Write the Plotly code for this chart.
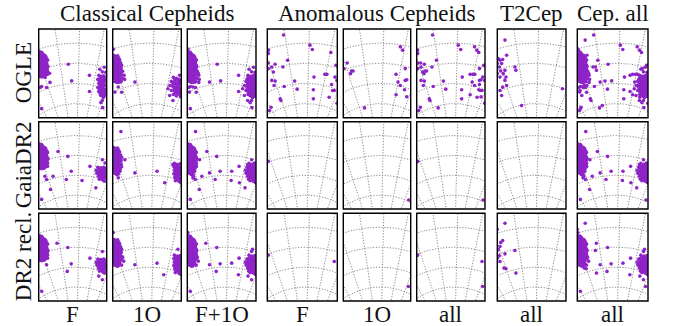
import math
import plotly.graph_objects as go

# ---------------- layout text ----------------
group_titles = ["Classical Cepheids", "Anomalous Cepheids", "T2Cep", "Cep. all"]
row_labels = ["OGLE", "GaiaDR2", "DR2 recl."]
col_labels = ["F", "1O", "F+1O", "F", "1O", "all", "all", "all"]

# ---------------- data (panel coordinates: x 0..69 left->right, y 0..88 top->bottom) ----------------
lmc_f = [(0.5,24),(2,25),(4,24.5),(6,26),(1,27),(3,28),(5,28),(7.5,28.5),(0.5,30),(2.5,31),(4.5,30.5),
         (6.5,31.5),(9,31),(1,33),(3,34),(5.5,33.5),(8,34),(0.5,36),(2.5,37),(4.5,36),(7,37),(9.5,37.5),
         (1.5,39),(3.5,40),(6,39.5),(8.5,40),(0.5,42),(2.5,43),(5,42.5),(7.5,43),(1.5,45),(4,45.5),
         (6.5,46),(9,45),(3,47.5),(0.5,47),
         (1.5,25.5),(3,26.5),(5,27),(7,27),(2,29.5),(4,29),(6,29.5),(8.5,30),(1.5,32),(3.5,32.5),(6,32.5),
         (7.5,32),(1.5,35),(4,35),(6,35),(8.5,36),(2.5,38.5),(5,38),(7.5,38.5),(1.5,41),(4,41.5),(6.5,41),
         (9,42),(2.5,44),(5.5,44),(8,44.5),(2,46.5),(5,47),(1,22.5),(3,23)]
lmc_1o = [(1,26),(3,27),(5,26.5),(0.5,29),(2.5,30),(4.5,29.5),(7,30.5),(1,32),(3,33),(5.5,32.5),(8,33.5),
          (0.5,35),(2.5,36),(4.5,35.5),(7,36.5),(9,36),(1.5,38),(3.5,39),(6,38.5),(8.5,39.5),(0.5,41),
          (2.5,42),(5,41.5),(7.5,42.5),(1.5,44),(4,45),(6.5,44.5),(9,45.5),(2.5,47),(5,48),(7.5,47.5),
          (3.5,50),(6,51),(1,49),(4,53),
          (2,27.5),(4,28),(6,28.5),(1.5,30.5),(3.5,31),(6,31),(2,34),(4,34),(6.5,34.5),(1.5,37),(3.5,37.5),
          (5.5,37),(8,38),(2,40),(4,40.5),(7,40.5),(3.5,43.5),(6,43),(8.5,43),(1,46),(3.5,46),(6.5,46.5),
          (2.5,49.5),(5,50),(7,49.5),(2,52),(5.5,53)]
smc_f_ogle = [(62,40),(66.5,38),(64.5,42.5),(68,43),(61,46),(63.5,47),(66,46.5),(68.5,48),(60,50),(62.5,51),
              (65,50.5),(67.5,52),(61,54),(63.5,55),(66,54.5),(68.5,56),(60,58),(62.5,59),(65,58.5),(67.5,60),
              (61,62),(64,63),(66.5,64),(68.5,62),(63,66),(65.5,68),(64.5,71),(63,73),(65,78),
              (62.5,48.5),(65,48.5),(67.5,49.5),(61.5,52.5),(64,53),(66.5,52.5),(62,56.5),(64.5,56.5),
              (67,56.5),(61.5,60.5),(63.5,61),(66,61),(68.5,60.5),(62.5,64.5),(65,65.5),(67.5,66)]
smc_f_gaia = [(60,46),(63,46.5),(66,46),(68.5,47),(58.5,49),(61.5,49.5),(64.5,49),(67.5,50),(59,52),(62,52.5),
              (65,52),(68,53),(60.5,55),(63.5,55.5),(66.5,55),(68.5,57),(61.5,58),(64.5,58.5),(67,60),
              (61.5,47.5),(64.5,47.5),(67,48),(60,50.5),(63,51),(66,50.5),(68.5,51.5),(61,54),(64,54),
              (67,54),(62.5,57),(65.5,57),(66,59.5)]
smc_1o = [(67.3,46),(61,48),(64,49),(66.5,50),(68.5,51),(59,52),(62,53),(65,53.5),(67.5,54.5),(57.5,56),
          (60.5,57),(63.5,57.5),(66,58),(68.5,59),(59,61),(62,61.5),(65,62),(67.5,63),(61,65),(64,66.5),(68,67),
          (62.5,50.5),(65.5,51),(68,52.5),(60.5,54.5),(63.5,55),(66.5,56),(62,59),(64.5,60),(67,60.5),
          (63,63.5),(66,64.5),(68.5,65)]
smc_1o_gaia = [(62,42),(65,43),(68,42.5),(61.5,45.5),(64.5,46),(67.5,46.5),(62,49),(65,49.5),(68,50),
               (61.5,52.5),(64.5,53),(67.5,53.5),(62.5,56),(65.5,56.5),(68.5,57),(63,59.5),(66.5,60),(68.5,61.5),
               (63.5,44.5),(66.5,44.5),(63,47.5),(66,48),(68.5,48),(63,51),(66,51.5),(63,54.5),(66,55),
               (64,58),(67,58.5)]

ogle_cc_f_extra = [(11,44),(6.5,48),(11.5,53),(8,58),(1.5,58),(3,57),(30,35),(33.5,51.5),(51.5,46),
                   (51.5,62),(61.5,62.5),(3,79)]
ogle_cc_1o_extra = [(0.6,20),(10,42),(11.5,46),(10,49),(12,50),(8.5,52),(7.3,52.6),(5.6,57.6),(9,62.7),
                    (2.3,62.6),(22.3,52.7),(55.6,59.3),(57.3,66),(60.6,71)]
gaia_cc_f_extra = [(8,43.3),(6.3,55),(14.6,55),(8,58.3),(19.6,30),(29.6,35),(33,50),(28,58.3),(44,59.3),
                   (52,45),(58,66.7),(12,68.3),(3,78.3),(64.6,38.3),(67.3,41.6)]
gaia_cc_1o_extra = [(8.3,10),(12.3,38.3),(7.3,50),(4,53.3),(5.6,56.6),(22.3,51.6),(44.6,50),(52.3,61.6),
                    (60.6,43.3)]
recl_cc_f_extra = [(18.6,30),(29.6,34.3),(8,42.7),(8,51.7),(33,50.7),(29,58.3),(52,45),(64.6,38.3),
                   (3,78.3),(64.6,66.7),(61,63)]
recl_cc_1o_extra = [(0.6,19.3),(10,44),(11,48),(9,52),(22.3,51.7),(44.6,50),(51.3,61.7),(65.6,36)]

ogle_acep_f = [(16,6),(42,16),(44.4,20.3),(62.7,23.3),(1,21),(1,24.3),(1,33.7),(7.7,35),(4.4,37.7),
               (15.4,37.7),(20,31),(1,39.3),(6,42.7),(4.4,51),(7.7,51.7),(6.7,56),(16.7,57),(27,51.7),
               (29.4,59.7),(46,47.7),(45.4,60.3),(45.4,69.3),(56.7,45),(58.7,45),(66.7,47.7),(68.7,51),
               (63.4,55),(66,61),(61,67.7),(68.7,73.7),(12.7,69.3),(13.4,71),(3.7,77.7),(2,81),(67.7,36),
               (64.4,61)]
ogle_acep_1o = [(4,33.7),(0.7,39.3),(8.4,41.7),(10,41.7),(7.4,44.3),(58.4,17.7),(60.7,21),(63.4,39.3),
                (54,45),(56,52.7),(63.4,51),(65,50.3),(58.4,56),(62.7,60.3),(54,65.3),(65,67.3),(21.7,78.3)]
gaia_acep_f = [(1,40)]
gaia_acep_1o = [(67,79)]
recl_acep_f = [(1,42),(66,48.4)]
recl_acep_1o = [(66.6,73.4)]

ogle_t2 = [(7.7,11),(1,29.3),(2.7,31),(5.4,30.3),(0,34.3),(4.4,34.3),(9.4,26),(7.7,41),(2,37.7),(3.4,41.7),
           (17.7,37.7),(18.7,41),(6,44.3),(2.7,47.7),(7.7,51),(9.4,56),(5.4,57.7),(2.7,61),(4.4,66),
           (65.4,59.3),(24.4,76),(0,44.3),(8.7,47.7)]
gaia_t2 = []
recl_t2 = [(7.7,10),(0,16),(3.4,29.4),(5.4,27.4),(2.7,33.4),(7.7,40.7),(1,36.7),(2,42.7),(0,45),
           (2.7,48.4),(17.7,37.4),(6.7,55),(8.7,55.7),(18.7,60)]

# ---------------- assemble panels ----------------
def panels_for(cc_f, cc_1o, acep_f, acep_1o, t2):
    cc_all = cc_f + cc_1o
    acep_all = acep_f + acep_1o
    return [cc_f, cc_1o, cc_all, acep_f, acep_1o, acep_all, t2, cc_all + acep_all + t2]

rows = [
    panels_for(lmc_f + smc_f_ogle + ogle_cc_f_extra, lmc_1o + smc_1o + ogle_cc_1o_extra,
               ogle_acep_f, ogle_acep_1o, ogle_t2),
    panels_for(lmc_f + smc_f_gaia + gaia_cc_f_extra, lmc_1o + smc_1o_gaia + gaia_cc_1o_extra,
               gaia_acep_f, gaia_acep_1o, gaia_t2),
    panels_for(lmc_f + smc_f_gaia + recl_cc_f_extra, lmc_1o + smc_1o_gaia + recl_cc_1o_extra,
               recl_acep_f, recl_acep_1o, recl_t2),
]

W, H = 678, 326
col_left = [38.7, 112.7, 187.3, 267.3, 343.3, 416.7, 497.3, 577.3]
col_right = [106.7, 181.3, 256.0, 337.3, 410.7, 485.0, 566.0, 648.0]
row_top = [29.0, 121.7, 213.3]
row_bot = [117.7, 209.0, 301.0]

XR, YR = 69.0, 88.0
CX, CY = 38.0, 142.0
radii = [48, 68, 88, 108, 128, 148]
angles = [1.4 + 10 * k for k in range(-6, 6)]

grid_color = "#8a8a8a"
point_color = "#8e24c8"

# grid curves (projection graticule)
arc_x, arc_y = [], []
for r in radii:
    for i in range(181):
        t = math.radians(-90 + i)
        arc_x.append(CX + r * math.sin(t))
        arc_y.append(CY - r * math.cos(t))
    arc_x.append(None); arc_y.append(None)
mer_x, mer_y = [], []
for a in angles:
    t = math.radians(a)
    for r in (0, 260):
        mer_x.append(CX + r * math.sin(t))
        mer_y.append(CY - r * math.cos(t))
    mer_x.append(None); mer_y.append(None)

fig = go.Figure()
shapes = []
n = 0
for ri in range(3):
    for ci in range(8):
        n += 1
        sx = "" if n == 1 else str(n)
        xa, ya = "x" + sx, "y" + sx
        fig.add_trace(go.Scatter(x=arc_x + mer_x, y=arc_y + mer_y, mode="lines",
                                 line=dict(color=grid_color, width=1, dash="1.2px,1.6px"),
                                 xaxis=xa, yaxis=ya, hoverinfo="skip", showlegend=False))
        pts = rows[ri][ci]
        fig.add_trace(go.Scatter(x=[p[0] for p in pts], y=[p[1] for p in pts], mode="markers",
                                 marker=dict(color=point_color, size=3.6, line=dict(width=0)),
                                 xaxis=xa, yaxis=ya, showlegend=False))
        ax = dict(showgrid=False, zeroline=False, showticklabels=False, ticks="", showline=False)
        fig.layout["xaxis" + sx] = dict(ax, domain=[col_left[ci] / W, col_right[ci] / W],
                                        range=[0, XR], anchor=ya)
        fig.layout["yaxis" + sx] = dict(ax, domain=[1 - row_bot[ri] / H, 1 - row_top[ri] / H],
                                        range=[YR, 0], anchor=xa)
        shapes.append(dict(type="rect", xref=xa + " domain", yref=ya + " domain",
                           x0=0, x1=1, y0=0, y1=1, line=dict(color="black", width=1.4),
                           layer="above"))

font = dict(family="Liberation Serif", size=23, color="#111111")
ann = []
group_centers = [(col_left[0] + col_right[2]) / 2, (col_left[3] + col_right[5]) / 2,
                 (col_left[6] + col_right[6]) / 2, (col_left[7] + col_right[7]) / 2]
for t, cx in zip(group_titles, group_centers):
    ann.append(dict(text=t, x=cx / W, y=1 - 14 / H, xref="paper", yref="paper",
                    xanchor="center", yanchor="middle", showarrow=False, font=font))
for t, ci in zip(col_labels, range(8)):
    cx = (col_left[ci] + col_right[ci]) / 2
    ann.append(dict(text=t, x=cx / W, y=-3 / H, xref="paper", yref="paper",
                    xanchor="center", yanchor="bottom", showarrow=False, font=font))
for t, ri in zip(row_labels, range(3)):
    cy = (row_top[ri] + row_bot[ri]) / 2
    ann.append(dict(text=t, x=23 / W, y=1 - cy / H, xref="paper", yref="paper",
                    xanchor="center", yanchor="middle", showarrow=False, textangle=-90, font=font))

fig.update_layout(width=W, height=H, margin=dict(l=0, r=0, t=0, b=0),
                  paper_bgcolor="white", plot_bgcolor="white", annotations=ann, shapes=shapes)
fig.write_html("out.html", config={"displayModeBar": False},
               post_script="document.body.style.margin='0px';")
